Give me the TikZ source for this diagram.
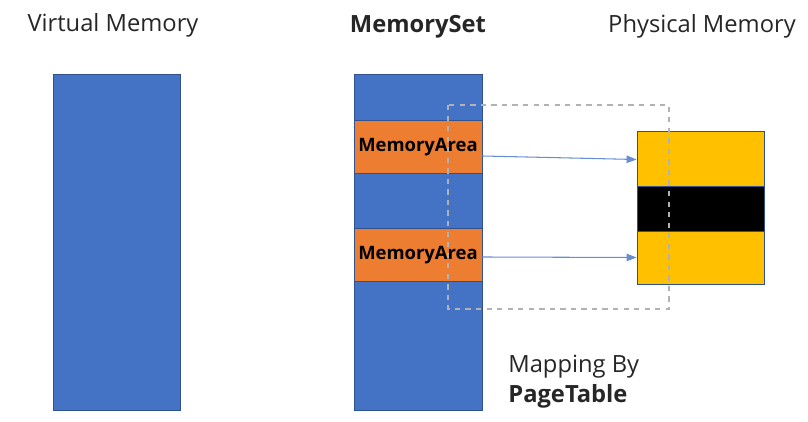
\documentclass[tikz,border=0pt]{standalone}
\usepackage{fontspec}
\setmainfont{Open Sans}
\usetikzlibrary{arrows.meta}
\definecolor{vblue}{HTML}{4472C4}
\definecolor{vedge}{HTML}{2F528F}
\definecolor{aorange}{HTML}{ED7D31}
\definecolor{pgold}{HTML}{FFC000}
\definecolor{ttext}{HTML}{262626}
\tikzset{
  col/.style={fill=vblue, draw=vedge, line width=0.5pt, inner sep=0pt,
    minimum width=2.54cm, minimum height=6.72cm},
  area/.style={fill=aorange, draw=vedge, line width=0.5pt, inner sep=0pt,
    minimum width=2.56cm, minimum height=1.06cm, font=\bfseries\fontsize{10.5}{12}\selectfont},
  page/.style={draw=vedge, line width=0.5pt, inner sep=0pt, minimum width=2.54cm},
  title/.style={text=ttext, font=\fontsize{13.5}{16}\selectfont},
  link/.style={draw=vblue!80, line width=0.6pt, -{Triangle[length=0.2cm,width=0.15cm]}}
}
\begin{document}
\begin{tikzpicture}
\useasboundingbox (0,0) rectangle (16.16,-8.44);
\node[title] (vtitle) at (2.26,-0.5) {Virtual Memory};
\node[title] (stitle) at (8.36,-0.54) {\bfseries MemorySet};
\node[title] (ptitle) at (14.04,-0.52) {Physical Memory};
\node[col] (virt) at (2.33,-4.84) {};
\node[col, minimum width=2.56cm] (mset) at (8.36,-4.84) {};
\node[area] (area1) at (8.36,-2.94) {MemoryArea};
\node[area] (area2) at (8.36,-5.10) {MemoryArea};
\node[page, fill=pgold, minimum height=1.10cm] (frame1) at (14.01,-3.17) {};
\node[page, fill=black, minimum height=0.90cm] (hole) at (14.01,-4.17) {};
\node[page, fill=pgold, minimum height=1.06cm] (frame2) at (14.01,-5.15) {};
\draw[link] ([yshift=-0.18cm]area1.east) -- ([yshift=-0.02cm]frame1.west);
\draw[link] ([yshift=-0.04cm]area2.east) -- (frame2.west);
%dashed box goes over the columns
\draw[gray!60, dashed, line width=0.6pt] (8.96,-2.10) rectangle (13.38,-6.18);
\node[title, anchor=base west, inner sep=0pt] (pt) at (10.16,-7.46) {Mapping By};
\node[title, anchor=base west, inner sep=0pt] (pt2) at (10.16,-8.06) {\bfseries PageTable};
\end{tikzpicture}
\end{document}
